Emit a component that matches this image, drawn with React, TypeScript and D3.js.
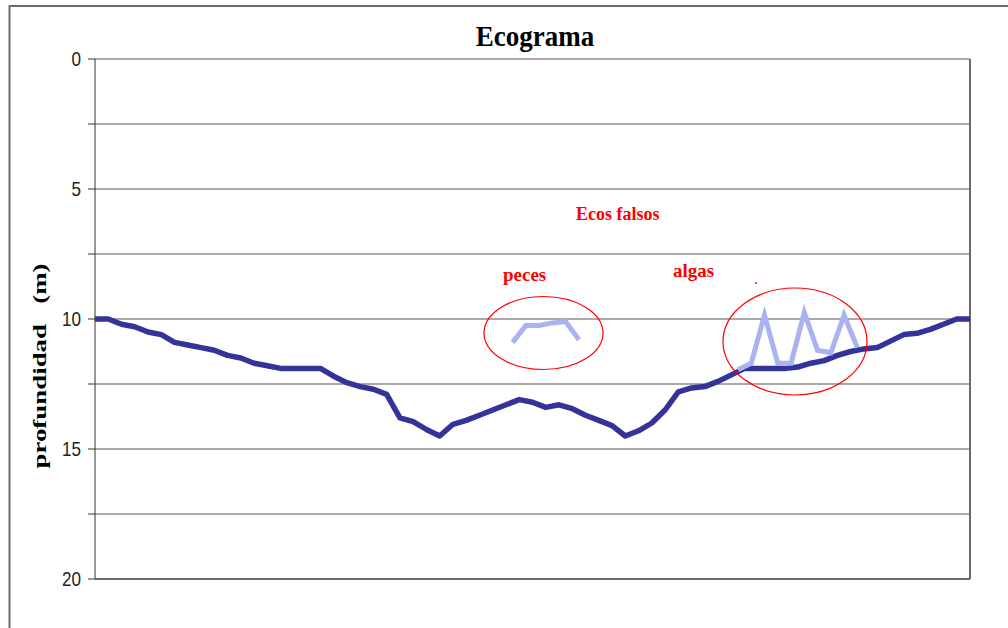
import React from "react";
import * as d3 from "d3";

const title = "Ecograma";
const yLabel = "profundidad   (m)";
const yTicks = [0, 5, 10, 15, 20];
const yGrid = [0, 2.5, 5, 7.5, 10, 12.5, 15, 17.5, 20];

// bottom profile (depth in m), one value per sounding
const fondo = [
  10.0, 10.0, 10.2, 10.3, 10.5, 10.6, 10.9, 11.0, 11.1, 11.2,
  11.4, 11.5, 11.7, 11.8, 11.9, 11.9, 11.9, 11.9, 12.2, 12.45,
  12.6, 12.7, 12.9, 13.8, 13.95, 14.25, 14.5, 14.05, 13.9, 13.7,
  13.5, 13.3, 13.1, 13.2, 13.4, 13.3, 13.45, 13.7, 13.9, 14.1,
  14.5, 14.3, 14.0, 13.5, 12.8, 12.65, 12.6, 12.4, 12.15, 11.9,
  11.9, 11.9, 11.9, 11.85, 11.7, 11.6, 11.4, 11.25, 11.15, 11.1,
  10.85, 10.6, 10.55, 10.4, 10.2, 10.0, 10.0,
];

// false echoes: fish
const pecesX = [31.5, 32.5, 33.5, 34.5, 35.5, 36.5];
const pecesD = [10.9, 10.25, 10.25, 10.15, 10.1, 10.8];

// false echoes: algae
const algasX = [48.5, 49.5, 50.5, 51.5, 52.5, 53.5, 54.5, 55.5, 56.5, 57.5];
const algasD = [11.95, 11.7, 9.85, 11.7, 11.7, 9.75, 11.2, 11.3, 9.85, 11.1];

const W = 1008;
const H = 628;
const left = 95;
const right = 970;
const top = 59;
const bottom = 579;

export default function App() {
  const x = d3.scaleLinear().domain([0, fondo.length - 1]).range([left, right]);
  const y = d3.scaleLinear().domain([0, 20]).range([top, bottom]);

  const line = d3
    .line<[number, number]>()
    .x((d) => x(d[0]))
    .y((d) => y(d[1]))
    .curve(d3.curveLinear);

  const fondoPath = line(fondo.map((d, i) => [i, d] as [number, number])) || "";
  const pecesPath = line(pecesX.map((v, i) => [v, pecesD[i]] as [number, number])) || "";
  const algasPath = line(algasX.map((v, i) => [v, algasD[i]] as [number, number])) || "";

  const serif = "'Liberation Serif', 'Times New Roman', serif";
  const sans = "'Liberation Sans', Arial, sans-serif";

  return (
    <svg
      width={W}
      height={H}
      style={{ position: "absolute", left: 0, top: 0, background: "#fff" }}
    >
      <rect x={0} y={0} width={W} height={H} fill="#fff" />
      {/* outer chart border */}
      <rect x={9.5} y={6} width={1100} height={800} fill="none" stroke="#6b6b6b" strokeWidth={2} />

      {/* title */}
      <text
        transform="translate(535, 46) scale(1, 1.08)"
        textAnchor="middle"
        fontFamily={serif}
        fontWeight="bold"
        fontSize={27}
        fill="#000"
      >
        {title}
      </text>

      {/* gridlines */}
      {yGrid.map((g) => (
        <line
          key={"g" + g}
          x1={left}
          x2={right}
          y1={y(g)}
          y2={y(g)}
          stroke="#8c8c8c"
          strokeWidth={1.3}
        />
      ))}
      {/* ticks */}
      {yGrid.map((g) => (
        <line key={"t" + g} x1={left - 7} x2={left} y1={y(g)} y2={y(g)} stroke="#333" strokeWidth={1} />
      ))}
      {/* plot border right & bottom */}
      <line x1={right} x2={right} y1={top} y2={bottom} stroke="#6b6b6b" strokeWidth={2} />
      <line x1={left} x2={right} y1={bottom} y2={bottom} stroke="#555" strokeWidth={1.6} />
      {/* y axis */}
      <line x1={left} x2={left} y1={top} y2={bottom} stroke="#333" strokeWidth={1} />

      {yTicks.map((t) => (
        <text
          key={"l" + t}
          transform={`translate(81, ${y(t) + 6.5}) scale(0.95, 1.1)`}
          textAnchor="end"
          fontFamily={sans}
          fontSize={18}
          fill="#222"
        >
          {t}
        </text>
      ))}

      <text
        transform={`translate(46, 366) rotate(-90) scale(1.38, 1)`}
        textAnchor="middle"
        fontFamily={serif}
        fontWeight="bold"
        fontSize={19.5}
        fill="#000"
        style={{ whiteSpace: "pre" }}
      >
        {yLabel}
      </text>

      {/* bottom profile */}
      <path d={fondoPath} fill="none" stroke="#333399" strokeWidth={5.5} strokeLinejoin="round" />
      {/* false echoes */}
      <path d={pecesPath} fill="none" stroke="#aab2f4" strokeWidth={5} strokeLinejoin="miter" />
      <path d={algasPath} fill="none" stroke="#aab2f4" strokeWidth={5} strokeLinejoin="miter" />

      {/* annotations */}
      <ellipse cx={543.5} cy={333} rx={59.5} ry={36.5} fill="none" stroke="#ff0000" strokeWidth={1.2} />
      <ellipse cx={795} cy={341.5} rx={72} ry={53.5} fill="none" stroke="#ff0000" strokeWidth={1.2} />
      <circle cx={756} cy={283} r={1} fill="#ff0000" />

      <text x={576} y={220} fontFamily={serif} fontWeight="bold" fontSize={18} fill="#ff0000">
        Ecos falsos
      </text>
      <text x={503} y={281} fontFamily={serif} fontWeight="bold" fontSize={19} fill="#ff0000">
        peces
      </text>
      <text x={673} y={277} fontFamily={serif} fontWeight="bold" fontSize={19} fill="#ff0000">
        algas
      </text>
    </svg>
  );
}
